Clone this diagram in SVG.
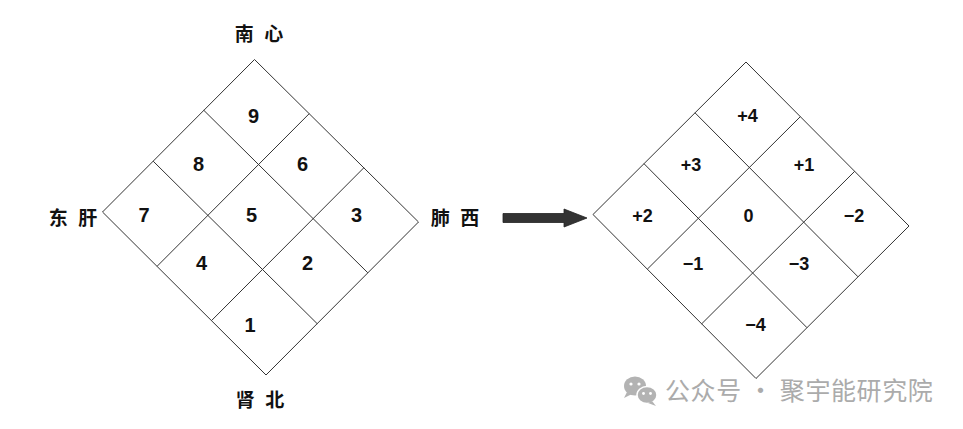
<svg xmlns="http://www.w3.org/2000/svg" width="963" height="429" viewBox="0 0 963 429">
<style>
.ln{stroke:#333;stroke-width:1;fill:none}
.d1{font-family:"Liberation Sans",Arial,sans-serif;font-weight:700;font-size:20px;fill:#111;text-anchor:middle}
.d2{font-family:"Liberation Sans",Arial,sans-serif;font-weight:700;font-size:18px;fill:#111;text-anchor:middle}
.cj{font-family:"Noto Sans CJK SC","Noto Sans",sans-serif;font-weight:700;font-size:19px;fill:#111;text-anchor:middle;word-spacing:6px}
.wm{font-family:"Noto Sans CJK SC","Noto Sans",sans-serif;font-weight:400;font-size:25px;fill:#ababab;letter-spacing:0.6px}
</style>
<rect width="963" height="429" fill="#fff"/>
<g id="left-grid">
<polygon class="ln" points="254.5,59.5 418.5,222 266,375 102.5,212"/>
<line class="ln" x1="309.2" y1="113.7" x2="157.2" y2="266.2"/>
<line class="ln" x1="363.8" y1="167.8" x2="211.8" y2="320.3"/>
<line class="ln" x1="203.8" y1="110.3" x2="367.8" y2="272.8"/>
<line class="ln" x1="153.2" y1="161.2" x2="317.2" y2="323.7"/>
<text class="d1" x="253.5" y="123">9</text>
<text class="d1" x="198.5" y="171">8</text>
<text class="d1" x="302.5" y="171">6</text>
<text class="d1" x="144" y="222">7</text>
<text class="d1" x="251.5" y="222">5</text>
<text class="d1" x="356.5" y="222">3</text>
<text class="d1" x="201.5" y="270">4</text>
<text class="d1" x="307.5" y="270">2</text>
<text class="d1" x="250" y="332">1</text>
</g>
<g id="labels">
<text class="cj" x="259" y="41">南 心</text>
<text class="cj" x="260" y="407">肾 北</text>
<text class="cj" x="73" y="225">东 肝</text>
<text class="cj" x="455" y="225">肺 西</text>
</g>
<g id="right-grid">
<polygon class="ln" points="746,62 909,226 756,378.5 593,214.5"/>
<line class="ln" x1="800.3" y1="116.7" x2="647.3" y2="269.2"/>
<line class="ln" x1="854.7" y1="171.3" x2="701.7" y2="323.8"/>
<line class="ln" x1="695" y1="112.8" x2="858" y2="276.8"/>
<line class="ln" x1="644" y1="163.7" x2="807" y2="327.7"/>
<text class="d2" x="747.5" y="122">+4</text>
<text class="d2" x="691" y="170.5">+3</text>
<text class="d2" x="804" y="170.5">+1</text>
<text class="d2" x="642.5" y="222">+2</text>
<text class="d2" x="748.5" y="222">0</text>
<text class="d2" x="854" y="222">−2</text>
<text class="d2" x="693" y="269.5">−1</text>
<text class="d2" x="799" y="269.5">−3</text>
<text class="d2" x="755.5" y="331">−4</text>
</g>
<g id="connectors">
<polygon points="503,213.5 564,213.5 564,209 587,218 564,227 564,222.5 503,222.5" fill="#333" stroke="#222" stroke-width="0.8"/>
</g>
<g id="watermark">
<ellipse cx="635" cy="386" rx="11" ry="9.5" fill="#b3b3b3"/>
<path d="M627,392 L624,398 L632,394 Z" fill="#b3b3b3"/>
<circle cx="631" cy="384" r="1.6" fill="#fff"/>
<circle cx="639" cy="384" r="1.6" fill="#fff"/>
<ellipse cx="647" cy="395" rx="10" ry="8.5" stroke="#fff" stroke-width="1.5" fill="#b3b3b3"/>
<path d="M652,401 L656,406 L648,403 Z" fill="#b3b3b3"/>
<circle cx="643.5" cy="393.5" r="1.4" fill="#fff"/>
<circle cx="650.5" cy="393.5" r="1.4" fill="#fff"/>
<text class="wm" x="665" y="400">公众号 · 聚宇能研究院</text>
</g>
</svg>
